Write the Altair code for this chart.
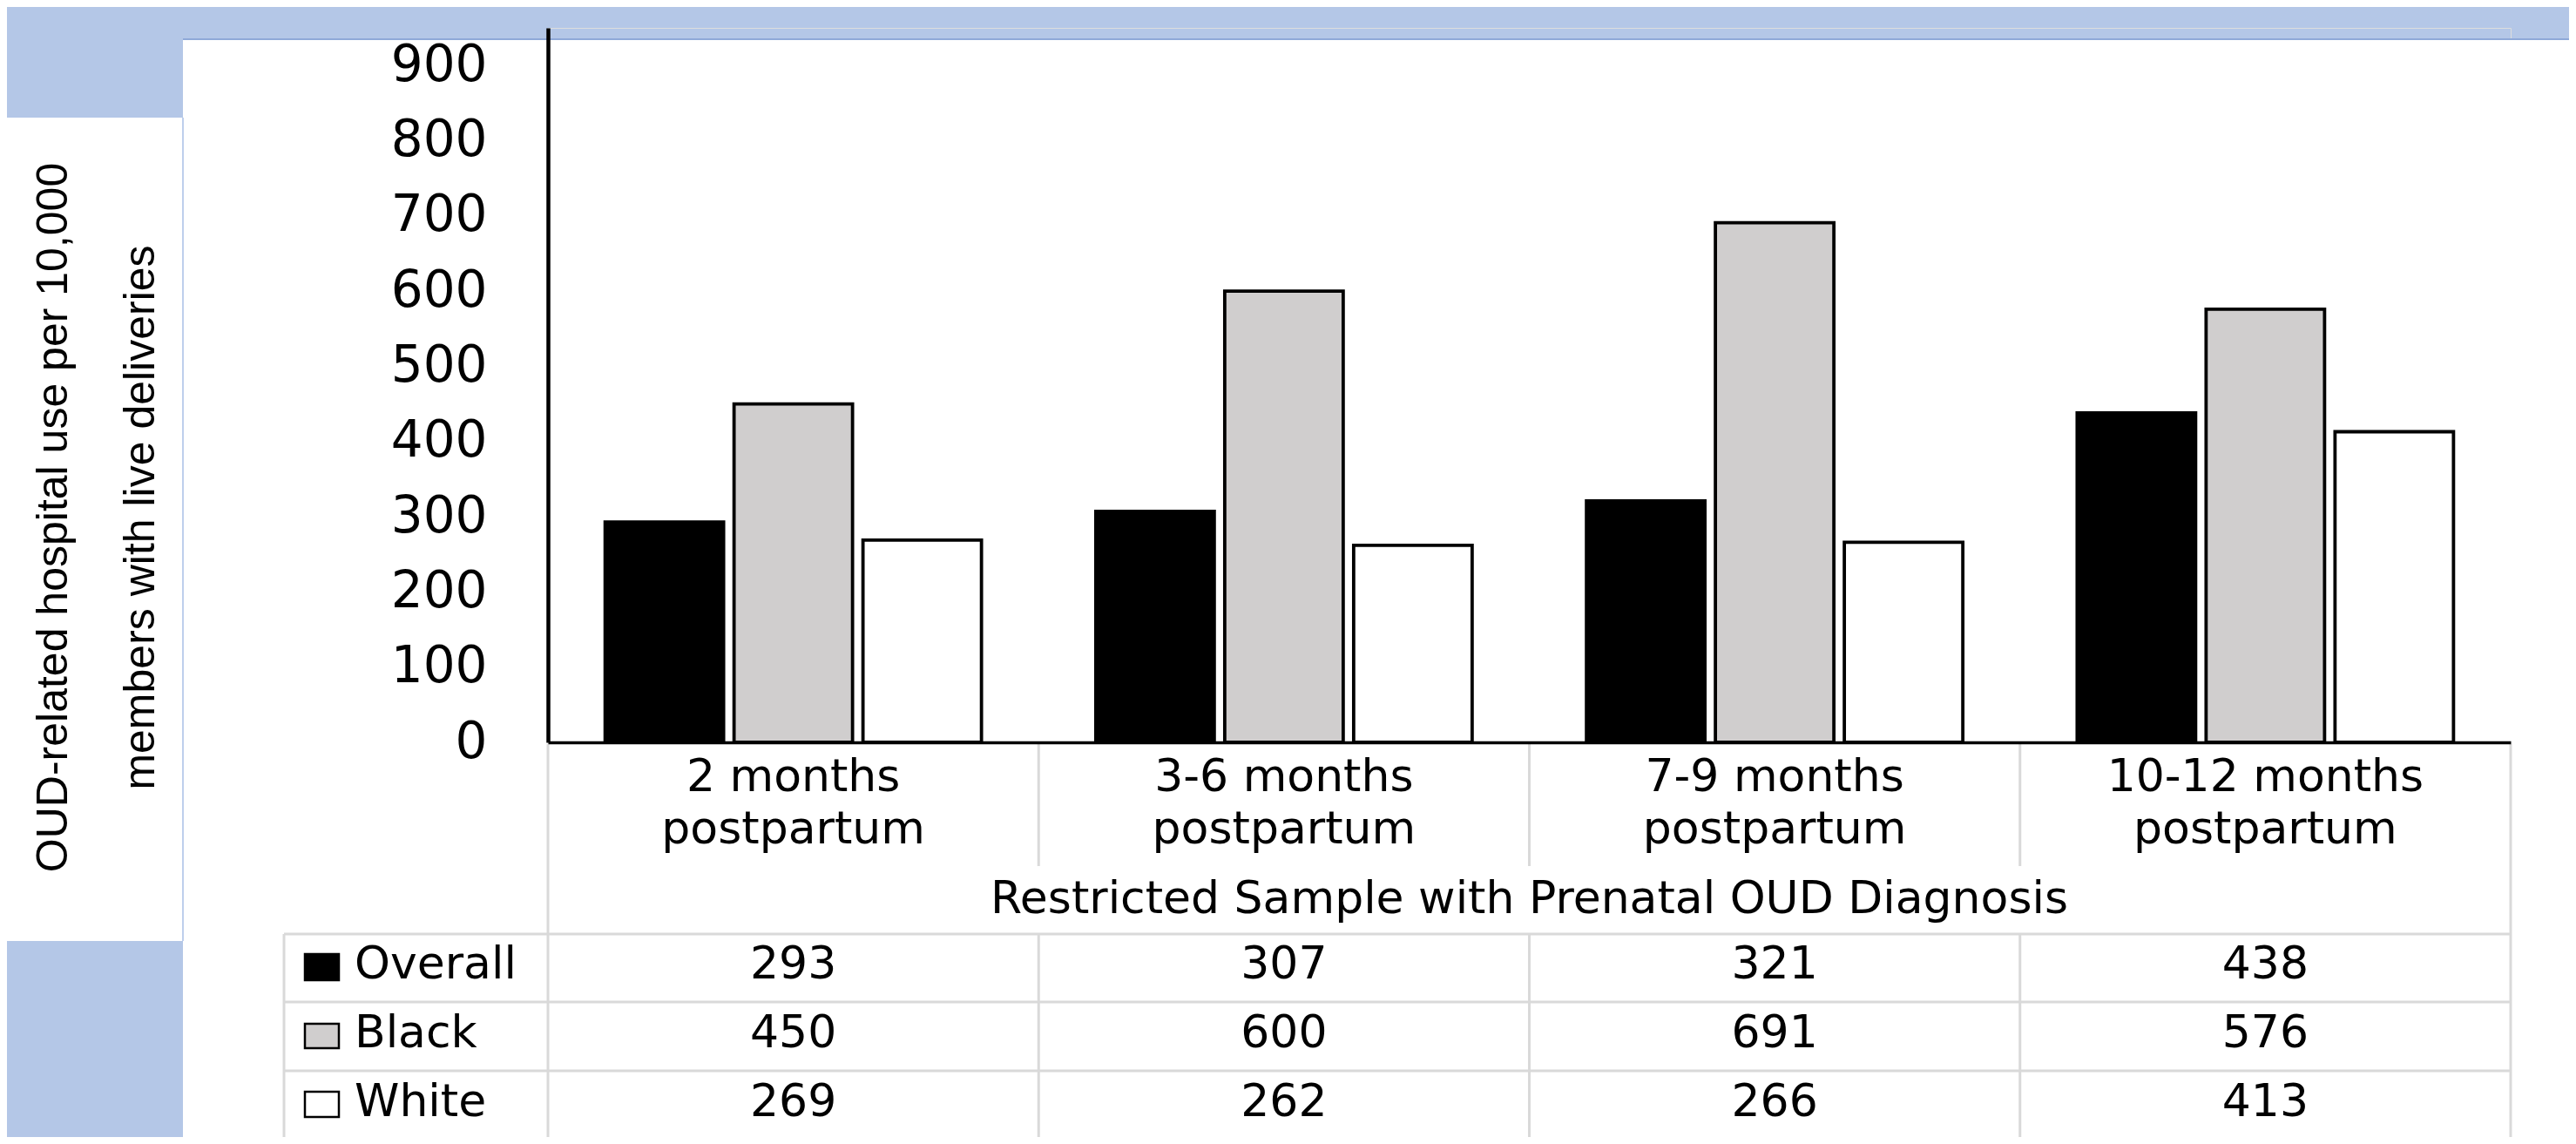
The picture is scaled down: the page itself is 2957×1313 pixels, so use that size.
import altair as alt
import pandas as pd

# ---------------- data ----------------
periods = ["2 months postpartum", "3-6 months postpartum",
           "7-9 months postpartum", "10-12 months postpartum"]
period_line1 = ["2 months", "3-6 months", "7-9 months", "10-12 months"]
period_line2 = ["postpartum", "postpartum", "postpartum", "postpartum"]
series = ["Overall", "Black", "White"]
overall = [293, 307, 321, 438]
black = [450, 600, 691, 576]
white = [269, 262, 266, 413]
y_ticks = [0, 100, 200, 300, 400, 500, 600, 700, 800, 900]
sample_label = "Restricted Sample with Prenatal OUD Diagnosis"
y_title = ["OUD-related hospital use per 10,000", "members with live deliveries"]
series_colors = ["#000000", "#D0CECE", "#FFFFFF"]

rows = []
for s, vals in zip(series, [overall, black, white]):
    for p, v in zip(periods, vals):
        rows.append({"period": p, "series": s, "value": v})
df = pd.DataFrame(rows)
cat_df = pd.DataFrame({"period": periods, "line1": period_line1, "line2": period_line2})
one = pd.DataFrame({"k": [0]})

# ---------------- layout (pixels, plot-area coordinates) ----------------
W, H = 2253, 820
PAD = {"left": 621, "top": 24, "right": 67, "bottom": 453}
RIGHT_EDGE = W + PAD["right"]
BLUE = "#B4C7E7"
GRID = "#D9D9D9"
FONT = "DejaVu Sans"
TXT = 52

color_scale = alt.Scale(domain=series, range=series_colors)

x_enc = alt.X(
    "period:N", sort=periods,
    scale=alt.Scale(paddingInner=0.233, paddingOuter=0.1165),
    axis=alt.Axis(title=None, labels=False, ticks=False, grid=False,
                  domainColor="black", domainWidth=3.5, zindex=1),
)
y_enc = alt.Y(
    "value:Q",
    scale=alt.Scale(domain=[0, 950], nice=False, zero=True),
    axis=alt.Axis(values=y_ticks, title=None, grid=False, ticks=False,
                  labelPadding=70, labelFontSize=58, labelFont=FONT,
                  labelColor="black", domainColor="black", domainWidth=4.5,
                  zindex=1),
)

layers = []

# slide background panels
layers.append(alt.Chart(one).mark_rect(color="white").encode(
    x=alt.value(-419), x2=alt.value(RIGHT_EDGE), y=alt.value(13), y2=alt.value(1300)))
layers.append(alt.Chart(one).mark_rect(color="white").encode(
    x=alt.value(-640), x2=alt.value(-419), y=alt.value(103), y2=alt.value(1048)))
layers.append(alt.Chart(one).mark_rule(color="#8FA9D8", strokeWidth=2).encode(
    x=alt.value(-419), x2=alt.value(RIGHT_EDGE), y=alt.value(13)))
layers.append(alt.Chart(one).mark_rule(color="#A9BFE6", strokeWidth=1.5).encode(
    x=alt.value(-419), y=alt.value(103), y2=alt.value(1048)))

# y-axis title (two rotated lines)
layers.append(alt.Chart(one).mark_text(
    angle=270, align="center", baseline="middle", lineBreak="\n",
    lineHeight=100, font="Liberation Sans", fontSize=50, color="black"
).encode(x=alt.value(-567), y=alt.value(562), text=alt.value("\n".join(y_title))))

# bars
layers.append(alt.Chart(df).mark_bar(stroke="black", strokeWidth=3.8).encode(
    x=x_enc, y=y_enc,
    xOffset=alt.XOffset("series:N", sort=series,
                        scale=alt.Scale(paddingInner=0.081, paddingOuter=0)),
    color=alt.Color("series:N", scale=color_scale, legend=None),
))

# table grid lines
step = W / 4
for i in (1, 2, 3):
    layers.append(alt.Chart(one).mark_rule(color=GRID, strokeWidth=3).encode(
        x=alt.value(i * step), y=alt.value(822), y2=alt.value(962)))
for i in (0, 1, 2, 3, 4):
    top = 822 if i in (0, 4) else 1040
    layers.append(alt.Chart(one).mark_rule(color=GRID, strokeWidth=3).encode(
        x=alt.value(i * step), y=alt.value(top), y2=alt.value(1290)))
layers.append(alt.Chart(one).mark_rule(color=GRID, strokeWidth=3).encode(
    x=alt.value(-303), y=alt.value(1040), y2=alt.value(1290)))
for yy in (1040, 1118, 1197):
    layers.append(alt.Chart(one).mark_rule(color=GRID, strokeWidth=3).encode(
        x=alt.value(-303), x2=alt.value(W + 1), y=alt.value(yy)))

# header labels
layers.append(alt.Chart(cat_df).mark_text(fontSize=TXT, font=FONT, color="black", baseline="middle").encode(
    x=x_enc, y=alt.value(860), text="line1:N"))
layers.append(alt.Chart(cat_df).mark_text(fontSize=TXT, font=FONT, color="black", baseline="middle").encode(
    x=x_enc, y=alt.value(920), text="line2:N"))
layers.append(alt.Chart(one).mark_text(fontSize=TXT, font=FONT, color="black", baseline="middle").encode(
    x=alt.value(W / 2), y=alt.value(1000), text=alt.value(sample_label)))

# data table rows
row_text_y = {"Overall": 1075, "Black": 1154, "White": 1233}
row_box = {"Overall": (1063, 1093), "Black": (1143, 1171), "White": (1221, 1250)}
for s in series:
    sub = df[df["series"] == s]
    layers.append(alt.Chart(sub).mark_text(fontSize=TXT, font=FONT, color="black", baseline="middle").encode(
        x=x_enc, y=alt.value(row_text_y[s]), text="value:Q"))
    b0, b1 = row_box[s]
    layers.append(alt.Chart(pd.DataFrame({"series": [s]})).mark_rect(stroke="black", strokeWidth=2.5).encode(
        x=alt.value(-279), x2=alt.value(-240), y=alt.value(b0), y2=alt.value(b1),
        color=alt.Color("series:N", scale=color_scale, legend=None)))
    layers.append(alt.Chart(pd.DataFrame({"series": [s]})).mark_text(
        fontSize=TXT, font=FONT, color="black", align="left", baseline="middle").encode(
        x=alt.value(-222), y=alt.value(row_text_y[s]), text="series:N"))

chart = alt.layer(*layers).properties(
    width=W, height=H, padding=PAD,
    autosize=alt.AutoSizeParams(type="none"),
    background=BLUE,
).configure_view(strokeWidth=0).configure(font=FONT)

chart.save("out.html", embed_options={"renderer": "svg", "actions": False})
